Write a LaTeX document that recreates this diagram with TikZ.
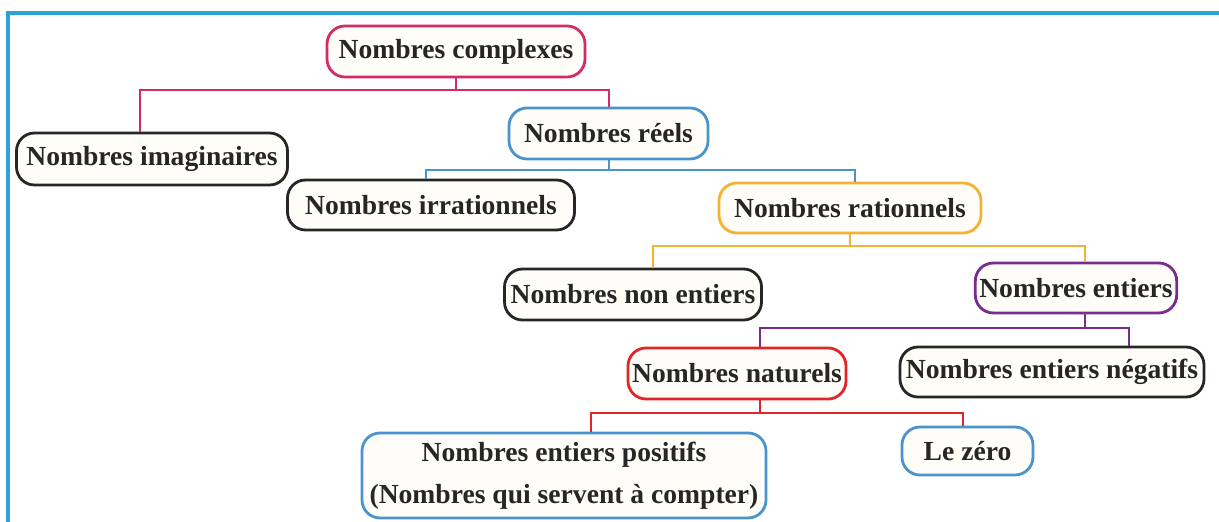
\documentclass[tikz,border=0pt]{standalone}
\usepackage{fontspec}
\setmainfont{Liberation Serif}
\definecolor{cmag}{HTML}{D42A66}
\definecolor{cblue}{HTML}{4A93CC}
\definecolor{corange}{HTML}{F2B233}
\definecolor{cpurple}{HTML}{7A2C8C}
\definecolor{cred}{HTML}{E0262A}
\definecolor{cblack}{HTML}{262626}
\definecolor{cframe}{HTML}{2AA3D8}
\definecolor{cfill}{HTML}{FEFDF7}
\tikzset{
  box/.style={draw, line width=1.4pt, rounded corners=9pt, fill=cfill, inner sep=2pt,
    font=\fontsize{13.8}{21}\selectfont\bfseries, text=cblack, align=center},
  link/.style={line width=1pt},
}
\begin{document}
\begin{tikzpicture}[x=0.5pt,y=-0.5pt]
\useasboundingbox (0,0) rectangle (1219,522);
\fill[white] (0,0) rectangle (1219,522);
\draw[cframe, line width=1.6pt] (8,540) -- (8,13) -- (1240,13);

\node[box, draw=cmag, minimum width=129pt, minimum height=25.5pt] (complexes) at (456,51.5) {Nombres complexes};
\node[box, draw=cblack, minimum width=135.5pt, minimum height=26pt] (imag) at (152,159) {Nombres imaginaires};
\node[box, draw=cblue, minimum width=99.5pt, minimum height=25.5pt] (reels) at (608.5,133.5) {Nombres réels};
\node[box, draw=cblack, minimum width=143.5pt, minimum height=25pt] (irr) at (431,205) {Nombres irrationnels};
\node[box, draw=corange, minimum width=131pt, minimum height=25pt] (rat) at (850,208) {Nombres rationnels};
\node[box, draw=cblack, minimum width=128.5pt, minimum height=25.5pt] (nonent) at (633,294.5) {Nombres non entiers};
\node[box, draw=cpurple, minimum width=100pt, minimum height=25pt] (ent) at (1076,288) {Nombres entiers};
\node[box, draw=cred, minimum width=109pt, minimum height=25.5pt] (nat) at (737,373.5) {Nombres naturels};
\node[box, draw=cblack, minimum width=152pt, minimum height=25pt] (neg) at (1052,372) {Nombres entiers négatifs};
\node[box, draw=cblue, minimum width=202pt, minimum height=42.5pt] (pos) at (564,475.5) {Nombres entiers positifs\\(Nombres qui servent à compter)};
\node[box, draw=cblue, minimum width=65.5pt, minimum height=24pt] (zero) at (967.5,451) {Le zéro};

\coordinate (b1) at (456,90);
\coordinate (b2) at (608.5,170);
\coordinate (b3) at (850,246);
\coordinate (b4) at (1085,328);
\coordinate (b5) at (760,413);

\draw[link, cmag] (complexes.south) -- (b1) -| ([xshift=-6pt]imag.north);
\draw[link, cmag] (b1) -| (reels.north);
\draw[link, cblue] (reels.south) -- (b2) -| ([xshift=-2.5pt]irr.north);
\draw[link, cblue] (b2) -| ([xshift=2.5pt]rat.north);
\draw[link, corange] (rat.south) -- (b3) -| ([xshift=10pt]nonent.north);
\draw[link, corange] (b3) -| ([xshift=4.5pt]ent.north);
\draw[link, cpurple] ([xshift=4.5pt]ent.south) -- (b4) -| ([xshift=11.5pt]nat.north);
\draw[link, cpurple] (b4) -| ([xshift=38.5pt]neg.north);
\draw[link, cred] ([xshift=11.5pt]nat.south) -- (b5) -| ([xshift=13.5pt]pos.north);
\draw[link, cred] (b5) -| ([xshift=-2.25pt]zero.north);
\end{tikzpicture}
\end{document}
